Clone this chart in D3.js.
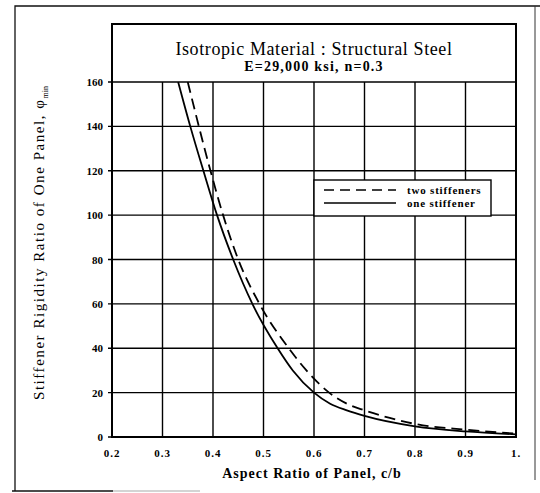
<!DOCTYPE html>
<html>
<head>
<meta charset="utf-8">
<script src="https://cdn.jsdelivr.net/npm/d3@7"></script>
<style>
  body { margin: 0; background: #fff; }
  svg { display: block; }
  text { font-family: "Liberation Serif", "DejaVu Serif", serif; fill: #000; }
</style>
</head>
<body>
<div id="chart"></div>
<script>
// values
var xTicks = [0.2, 0.3, 0.4, 0.5, 0.6, 0.7, 0.8, 0.9, 1.0];
var xTickLabels = ["0.2", "0.3", "0.4", "0.5", "0.6", "0.7", "0.8", "0.9", "1."];
var yTicks = [0, 20, 40, 60, 80, 100, 120, 140, 160];

var oneX = [0.331, 0.355, 0.381, 0.408, 0.44, 0.478, 0.528, 0.558, 0.6, 0.632, 0.665, 0.7, 0.8, 0.9, 1.0];
var oneY = [160, 140, 120, 100, 80, 60, 40, 30, 20, 15, 12, 9.5, 4.8, 2.5, 1.2];
var twoX = [0.35, 0.372, 0.395, 0.42, 0.45, 0.492, 0.55, 0.585, 0.63, 0.665, 0.7, 0.75, 0.8, 0.9, 1.0];
var twoY = [160, 140, 120, 100, 80, 60, 40, 30, 20, 15, 12, 8.6, 5.9, 3.3, 1.5];

var seriesNames = ["two stiffeners", "one stiffener"];

var w = 540, h = 493;

var svg = d3.select("#chart")
  .append("svg")
  .attr("width", w)
  .attr("height", h);

var x = d3.scaleLinear().domain([0.2, 1.0]).range([112, 516]);
var y = d3.scaleLinear().domain([0, 160]).range([437, 82]);
var frameTop = 24;

// outer frame (scanned page border)
svg.append("path")
  .attr("d", "M15,491 L15,6 L540,6")
  .style("fill", "none").style("stroke", "#111").style("stroke-width", 1.3);
svg.append("line")
  .attr("x1", 535).attr("x2", 535).attr("y1", 6).attr("y2", 480)
  .style("stroke", "#333").style("stroke-width", 1);
svg.append("line")
  .attr("x1", 12).attr("x2", 113).attr("y1", 491).attr("y2", 491)
  .style("stroke", "#111").style("stroke-width", 1.5);
svg.append("line")
  .attr("x1", 113).attr("x2", 200).attr("y1", 491).attr("y2", 491)
  .style("stroke", "#aaa").style("stroke-width", 1.2);

// grid
svg.selectAll(".vgrid")
  .data(xTicks.slice(1, -1))
  .enter().append("line")
  .attr("x1", d => x(d)).attr("x2", d => x(d))
  .attr("y1", y(160)).attr("y2", y(0))
  .style("stroke", "#000").style("stroke-width", 1.4);

svg.selectAll(".hgrid")
  .data(yTicks)
  .enter().append("line")
  .attr("x1", x(0.2) - 4).attr("x2", x(1.0))
  .attr("y1", d => y(d)).attr("y2", d => y(d))
  .style("stroke", "#000").style("stroke-width", 1.4);

// frame of plot incl. title area
svg.append("rect")
  .attr("x", x(0.2)).attr("y", frameTop)
  .attr("width", x(1.0) - x(0.2)).attr("height", y(0) - frameTop)
  .style("fill", "none").style("stroke", "#000").style("stroke-width", 2);

// tick labels
svg.selectAll(".ylab")
  .data(yTicks)
  .enter().append("text")
  .attr("x", x(0.2) - 9)
  .attr("y", d => y(d) + 4)
  .attr("text-anchor", "end")
  .style("font-size", "11px").style("font-weight", "bold")
  .text(d => d);

svg.selectAll(".xlab")
  .data(xTicks)
  .enter().append("text")
  .attr("x", d => x(d))
  .attr("y", y(0) + 20)
  .attr("text-anchor", "middle")
  .style("font-size", "11px").style("font-weight", "bold")
  .style("letter-spacing", "1px")
  .text((d, i) => xTickLabels[i]);

// titles
svg.append("text")
  .attr("x", (x(0.2) + x(1.0)) / 2).attr("y", 55)
  .attr("text-anchor", "middle")
  .style("font-size", "18px")
  .style("letter-spacing", "0.6px")
  .text("Isotropic Material : Structural Steel");

svg.append("text")
  .attr("x", (x(0.2) + x(1.0)) / 2).attr("y", 71)
  .attr("text-anchor", "middle")
  .style("font-size", "14px").style("font-weight", "bold")
  .style("letter-spacing", "1.2px")
  .text("E=29,000 ksi, n=0.3");

svg.append("text")
  .attr("x", 312).attr("y", 478)
  .attr("text-anchor", "middle")
  .style("font-size", "14px").style("font-weight", "bold")
  .style("letter-spacing", "1px")
  .text("Aspect Ratio of Panel, c/b");

var ylab = svg.append("text")
  .attr("transform", "translate(44,243) rotate(-90)")
  .attr("text-anchor", "middle")
  .style("font-size", "15px");
ylab.append("tspan")
  .attr("textLength", 300).attr("lengthAdjust", "spacing")
  .text("Stiffener Rigidity Ratio of One Panel, \u03c6");
ylab.append("tspan").attr("dy", 4).style("font-size", "8px").text("min");

// curves
svg.append("clipPath").attr("id", "clip")
  .append("rect")
  .attr("x", x(0.2)).attr("y", y(160))
  .attr("width", x(1.0) - x(0.2)).attr("height", y(0) - y(160));

var line = d3.line()
  .x(d => x(d[0])).y(d => y(d[1]))
  .curve(d3.curveMonotoneX);

svg.append("path")
  .datum(twoX.map((v, i) => [v, twoY[i]]))
  .attr("d", line)
  .attr("clip-path", "url(#clip)")
  .style("fill", "none").style("stroke", "#000").style("stroke-width", 1.8)
  .style("stroke-dasharray", "11,6");

svg.append("path")
  .datum(oneX.map((v, i) => [v, oneY[i]]))
  .attr("d", line)
  .attr("clip-path", "url(#clip)")
  .style("fill", "none").style("stroke", "#000").style("stroke-width", 1.8);

// legend
var lg = svg.append("g");
lg.append("rect")
  .attr("x", x(0.6)).attr("y", 180)
  .attr("width", 491 - x(0.6)).attr("height", 36)
  .style("fill", "#fff").style("stroke", "#000").style("stroke-width", 1.4);

seriesNames.forEach(function (name, i) {
  var ly = 190 + i * 13;
  lg.append("line")
    .attr("x1", x(0.6) + 10).attr("x2", 396)
    .attr("y1", ly).attr("y2", ly)
    .style("stroke", "#000").style("stroke-width", 1.4)
    .style("stroke-dasharray", i === 0 ? "10,6" : null);
  lg.append("text")
    .attr("x", 407).attr("y", ly + 4)
    .style("font-size", "11px").style("font-weight", "bold")
    .style("letter-spacing", "0.8px")
    .text(name);
});
</script>
</body>
</html>
